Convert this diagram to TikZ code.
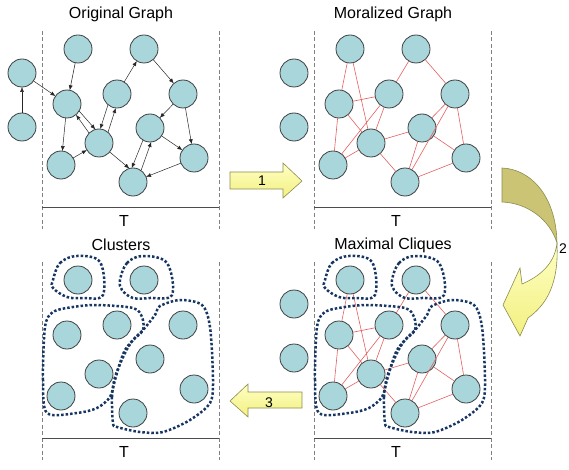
\documentclass[tikz,border=0pt]{standalone}
\usepackage{fontspec}
\setmainfont{Liberation Sans}
\usepackage{tikz}
\newcommand{\defaultvertexsize}{28pt}
\newcommand{\vertexsize}{\defaultvertexsize}
\usetikzlibrary{arrows.meta}
\definecolor{vertexfill}{RGB}{168,214,219}
\definecolor{vertexline}{RGB}{64,64,64}
\definecolor{moralred}{RGB}{228,96,96}
\definecolor{cliqueblue}{RGB}{24,54,98}
\definecolor{arrowedge}{RGB}{140,140,80}
\definecolor{arrowtop}{RGB}{255,255,196}
\definecolor{arrowbottom}{RGB}{242,240,128}
\definecolor{bandolive}{RGB}{202,196,116}
\tikzstyle{vertex}=[draw=vertexline, fill=vertexfill, circle, line width=0.8pt, inner sep=0, outer sep=0, minimum size=\vertexsize]
\tikzstyle{parent}=[-{Latex[length=5pt, width=4pt]}, line width=0.5pt, black!85]
\tikzstyle{moral}=[moralred, line width=0.6pt]
\tikzstyle{clique}=[cliqueblue, line width=2.5pt, dash pattern=on 2.5pt off 2pt]
\tikzstyle{slice}=[gray, line width=0.6pt, dash pattern=on 4pt off 2.5pt]
\tikzstyle{axis}=[black!70, line width=0.8pt]
\tikzstyle{title}=[font=\fontsize{16}{19}\selectfont, inner sep=0]
\tikzstyle{steplabel}=[font=\fontsize{14}{16}\selectfont, inner sep=0]
\tikzstyle{fatarrow}=[draw=arrowedge, line width=0.6pt, top color=arrowtop, bottom color=arrowbottom]

% one time slice: dashed borders, axis and labels
\newcommand{\sliceframe}[2]{%
  \draw[slice] (42,31) -- (42,229) (219,31) -- (219,229);
  \draw[axis] (42,207) -- (219,207);
  \node[title] (#1title) at (121,14) {#2};
  \node[title] (#1T) at (124,221) {T};
}
% the two nodes of the previous slice
\newcommand{\outsidenodes}[1]{%
  \node[vertex] (#1A) at (22,73) {};
  \node[vertex] (#1B) at (22,127) {};
}
\newcommand{\slicenodes}[1]{%
  \node[vertex] (#1n1) at (78,49) {};
  \node[vertex] (#1n2) at (144,49) {};
  \node[vertex] (#1n3) at (67,104) {};
  \node[vertex] (#1n4) at (117,94) {};
  \node[vertex] (#1n5) at (183,94) {};
  \node[vertex] (#1n6) at (99,143) {};
  \node[vertex] (#1n7) at (150,128) {};
  \node[vertex] (#1n8) at (61,165) {};
  \node[vertex] (#1n9) at (194,158) {};
  \node[vertex] (#1n10) at (133,182) {};
}
\newcommand{\moraledges}[1]{%
  \draw[moral] (#1n1) -- (#1n3) (#1n1) -- (#1n6) (#1n3) -- (#1n4) (#1n3) -- (#1n6)
    (#1n3) -- (#1n8) (#1n8) -- (#1n4) (#1n8) -- (#1n6) (#1n4) -- (#1n6)
    (#1n4) -- (#1n2) (#1n2) -- (#1n5) (#1n6) -- (#1n7) (#1n6) -- (#1n10)
    (#1n5) -- (#1n7) (#1n5) -- (#1n10) (#1n5) -- (#1n9) (#1n7) -- (#1n9)
    (#1n7) -- (#1n10) (#1n9) -- (#1n10);
}
\newcommand{\cliqueoutlines}{%
  \draw[clique] plot[smooth cycle, tension=0.6] coordinates {(53,49) (60,32) (77,25) (100,31) (103,64) (83,67) (67,66) (53,57)};
  \draw[clique] plot[smooth cycle, tension=0.6] coordinates {(120,49) (127,32) (143,25) (167,32) (172,64) (150,67) (133,67) (122,59)};
  \draw[clique] plot[smooth cycle, tension=0.5] coordinates {(47,182) (43,149) (45,96) (53,81) (73,76) (97,74) (133,77) (142,86) (143,99) (133,109) (125,119) (120,132) (115,149) (110,166) (97,177) (77,182)};
  \draw[clique] plot[smooth cycle, tension=0.5] coordinates {(113,192) (112,166) (115,146) (125,122) (133,109) (143,99) (155,84) (160,75) (180,69) (202,74) (210,96) (213,149) (210,172) (190,189) (163,201) (140,201) (117,196)};
}

\begin{document}
\begin{tikzpicture}[x=1pt, y=-1pt]
  \useasboundingbox (0,0) rectangle (569,470);

  % original graph
  \sliceframe{og}{Original Graph}
  \outsidenodes{og}
  \slicenodes{og}
  \draw[parent] (ogB) -- (ogA);
  \draw[parent] (ogA) -- (ogn3);
  \draw[parent] (ogn1) -- (ogn3);
  \draw[parent] (ogn3) -- (ogn8);
  \draw[parent] (ogn8) -- (ogn6);
  \draw[parent] (ogn3.-30) -- (ogn6.105);
  \draw[parent] (ogn6.135) -- (ogn3.-50);
  \draw[parent] (ogn4.-130) -- (ogn6.85);
  \draw[parent] (ogn6.50) -- (ogn4.-95);
  \draw[parent] (ogn4) -- (ogn2);
  \draw[parent] (ogn2) -- (ogn5);
  \draw[parent] (ogn5) -- (ogn7);
  \draw[parent] (ogn5) -- (ogn9);
  \draw[parent] (ogn7) -- (ogn9);
  \draw[parent] (ogn9) -- (ogn10);
  \draw[parent] (ogn6) -- (ogn10.105);
  \draw[parent] (ogn7.-120) -- (ogn10.95);
  \draw[parent] (ogn10.55) -- (ogn7.-85);

  % moralized graph
  \begin{scope}[shift={(272,0)}]
    \sliceframe{mg}{Moralized Graph}
    \outsidenodes{mg}
    \slicenodes{mg}
    \moraledges{mg}
  \end{scope}

  % maximal cliques
  \begin{scope}[shift={(272,231)}]
    \sliceframe{mc}{Maximal Cliques}
    \outsidenodes{mc}
    \slicenodes{mc}
    \moraledges{mc}
    \cliqueoutlines
  \end{scope}

  % clusters
  \begin{scope}[shift={(0,231)}]
    \sliceframe{cl}{Clusters}
    \slicenodes{cl}
    \cliqueoutlines
  \end{scope}

  % step 1
  \shade[fatarrow] (230,172) -- (283,172) -- (283,163) -- (302,181) -- (283,198) -- (283,189) -- (230,189) -- cycle;
  \node[steplabel] (one) at (262,181) {1};
  % step 2
  \filldraw[fill=bandolive, draw=arrowedge, line width=0.6pt] (502,168) .. controls (530,169) and (556,195) .. (557,243)
    .. controls (550,220) and (528,203) .. (502,202) -- cycle;
  \shade[fatarrow] (557,243) .. controls (559,285) and (546,305) .. (528,318) -- (520,336) -- (503,305)
    -- (520,268) -- (522,284) .. controls (545,274) and (555,260) .. (557,243) -- cycle;
  \node[steplabel] (two) at (563,249) {2};
  % step 3
  \shade[fatarrow] (302,392) -- (248,392) -- (248,384) -- (230,401) -- (248,417) -- (248,408) -- (302,408) -- cycle;
  \node[steplabel] (three) at (269,403) {3};
\end{tikzpicture}
\end{document}
